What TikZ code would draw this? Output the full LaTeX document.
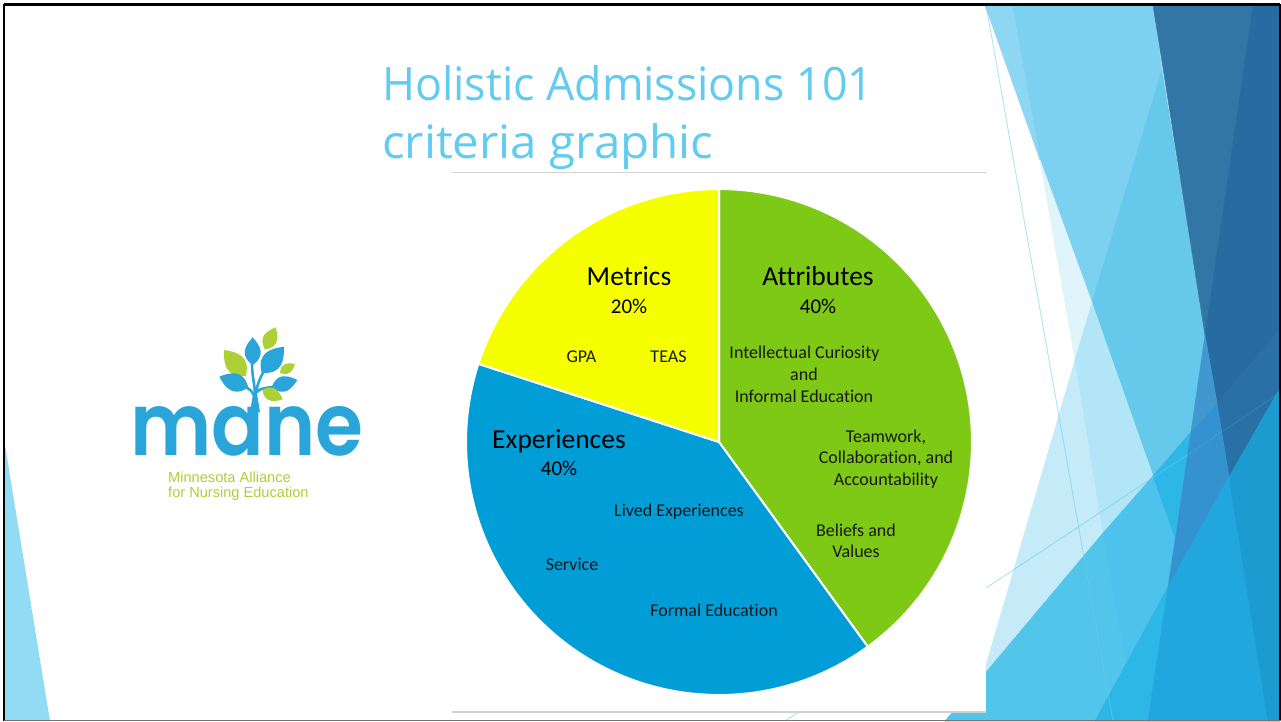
\documentclass[tikz,border=0pt]{standalone}
\usepackage{fontspec}
\usepackage{graphicx}
\setmainfont{Carlito}[Ligatures=CommonOff]
\newfontfamily\titlefont{Open Sans}
\newfontfamily\logofont{Poppins SemiBold}
\newfontfamily\subfont{Liberation Sans}
\usetikzlibrary{calc}
\definecolor{titleblue}{HTML}{62CBF0}
\definecolor{piegreen}{HTML}{7EC816}
\definecolor{pieblue}{HTML}{019DD7}
\definecolor{pieyellow}{HTML}{F6FF00}
\definecolor{logoblue}{HTML}{2AA5DA}
\definecolor{logogreen}{HTML}{ADD037}
\definecolor{thinblue}{HTML}{68CDF0}
\definecolor{leftfacet}{HTML}{91DBF5}
\definecolor{a1}{HTML}{7DD1F0}\definecolor{a2}{HTML}{8DD7F2}\definecolor{a3}{HTML}{66C9EC}
\definecolor{a4}{HTML}{E0F4FB}\definecolor{a5}{HTML}{C5EBF9}\definecolor{a6}{HTML}{B2E6F6}
\definecolor{a7}{HTML}{52C5EA}\definecolor{a8}{HTML}{4DC2EC}\definecolor{a9}{HTML}{2DB7E7}
\definecolor{b1}{HTML}{3276A5}\definecolor{b2}{HTML}{276CA1}\definecolor{b3}{HTML}{3592D0}
\definecolor{b4}{HTML}{21A6DE}\definecolor{b5}{HTML}{1B9BCF}\definecolor{b6}{HTML}{2870A6}\definecolor{b7}{HTML}{4098CF}
\tikzset{
 big/.style={font=\fontsize{27.5}{28}\selectfont,anchor=base,inner sep=0pt,text=black},
 pct/.style={font=\fontsize{21}{21}\selectfont,anchor=base,inner sep=0pt,text=black},
 small/.style={font=\fontsize{18}{18}\selectfont,anchor=base,inner sep=0pt,text=black!90},
 sub/.style={font=\subfont\fontsize{14.6}{15}\selectfont,anchor=base west,inner sep=0pt,text=logogreen},
 ttl/.style={font=\titlefont\fontsize{46}{46}\selectfont,anchor=base west,inner sep=0pt,text=titleblue},
 thin line/.style={line width=.9pt,color=thinblue,opacity=.55},
 faint line/.style={line width=.9pt,color=thinblue,opacity=.18},
 leafb/.style={fill=logoblue},
 leafg/.style={fill=logogreen},
 twig/.style={draw=logoblue,line width=2.6pt,line cap=round},
 facet/.style={fill=#1,draw=#1,line width=.5pt,line join=round}
}
\newcommand{\leaf}[5]{% style, base x,y, tip x,y
 \path[#1] (#2,#3) .. controls ($(#2,#3)!.35!(#4,#5)!.77!90:(#4,#5)$) and ($(#2,#3)!.72!(#4,#5)!.9!90:(#4,#5)$) .. (#4,#5)
   .. controls ($(#2,#3)!.72!(#4,#5)!.9!-90:(#4,#5)$) and ($(#2,#3)!.35!(#4,#5)!.77!-90:(#4,#5)$) .. (#2,#3) -- cycle;}
\begin{document}
\begin{tikzpicture}[x=1pt,y=-1pt]
\useasboundingbox (0,0) rectangle (1281,721);
\fill[white] (0,0) rectangle (1281,721);
% left facet
\fill[leftfacet] (5,445) -- (50,721) -- (5,721) -- cycle;
% right facets
\path[facet=a1] (1012,5) -- (1153,5) -- (1162,70) -- (1092,303) -- (1040,160) -- cycle;
\path[facet=a2] (985,5) -- (1012,5) -- (1040,160) -- cycle;
\path[facet=a3] (1162,70) -- (1205,335) -- (1191,432) -- (1153,476) -- (1092,303) -- cycle;
\path[facet=a4] (1040,160) -- (1092,303) -- (1075,360) -- cycle;
\path[facet=a5] (1075,360) -- (1103,533) -- (986,672) -- (986,665) -- cycle;
\path[facet=a6] (1075,360) -- (1092,303) -- (1153,476) -- (1103,533) -- cycle;
\path[facet=a7] (945,721) -- (1103,533) -- (1126,664) -- (1095,721) -- cycle;
\path[facet=a8] (1103,533) -- (1153,476) -- (1175,537) -- (1168,587) -- (1126,664) -- cycle;
\path[facet=a9] (1153,476) -- (1191,432) -- (1175,537) -- cycle;
\path[facet=a9] (1168,587) -- (1148,721) -- (1095,721) -- cycle;
\path[facet=b1] (1153,5) -- (1253,5) -- (1205,335) -- cycle;
\path[facet=b2] (1253,5) -- (1280,5) -- (1280,330) -- (1217,403) -- (1205,335) -- cycle;
\path[facet=b6] (1217,403) -- (1280,330) -- (1280,388) -- (1229,477) -- cycle;
\path[facet=b3] (1217,403) -- (1229,477) -- (1168,587) -- (1191,432) -- cycle;
\path[facet=b7] (1205,335) -- (1217,403) -- (1191,432) -- cycle;
\path[facet=b4] (1168,587) -- (1229,477) -- (1268,721) -- (1148,721) -- cycle;
\path[facet=b5] (1229,477) -- (1280,388) -- (1280,721) -- (1268,721) -- cycle;
% thin lines
\coordinate (ta) at (986,5); \coordinate (tb) at (1113,721);
\coordinate (tc) at (785,721); \coordinate (td) at (1187,455); \coordinate (te) at (1281,392);
\draw[thin line] (ta) -- (tb);
\draw[thin line] (tc) -- (td);
\draw[faint line] (td) -- (te);
% chart picture
\fill[white] (452,172) rectangle (986,712);
\draw[black!18,line width=1.1pt] (452,172.5) -- (986,172.5);
\draw[black!18,line width=1.3pt] (452,712) -- (986,712);
% pie
\draw[fill=piegreen,draw=white,line width=2pt] (719,442) -- plot[domain=90:-54,samples=100] ({719+253*cos(\x)},{442-253*sin(\x)}) -- cycle;
\draw[fill=pieblue,draw=white,line width=2pt] (719,442) -- plot[domain=-54:-198,samples=100] ({719+253*cos(\x)},{442-253*sin(\x)}) -- cycle;
\draw[fill=pieyellow,draw=white,line width=2pt] (719,442) -- plot[domain=162:90,samples=60] ({719+253*cos(\x)},{442-253*sin(\x)}) -- cycle;
% frame
\draw[black,line width=2.6pt] (4,4.5) -- (1280,4.5);
\draw[black,line width=2.4pt] (4,4) -- (4,721);
\draw[black,line width=1.6pt] (1280.2,4) -- (1280.2,721);
\draw[black!55,line width=1.4pt] (4,720.3) -- (1281,720.3);
% title
\node[ttl] (t1) at (382,100) {\resizebox{491pt}{\height}{Holistic Admissions 101}};
\node[ttl] (t2) at (382,158) {\resizebox{331pt}{\height}{criteria graphic}};
% chart labels
\node[big] (m) at (629,285) {Metrics};
\node[pct] (mp) at (629,313) {20\%};
\node[small] (gpa) at (581.5,362) {GPA};
\node[small] (teas) at (668.5,362) {TEAS};
\node[big] (at) at (818,285) {Attributes};
\node[pct] (ap) at (818,313) {40\%};
\node[small] (i1) at (804.5,358) {Intellectual Curiosity};
\node[small] (i2) at (804,380) {and};
\node[small] (i3) at (804,402) {Informal Education};
\node[small] (w1) at (886,442) {Teamwork,};
\node[small] (w2) at (886,463) {Collaboration, and};
\node[small] (w3) at (886,485) {Accountability};
\node[small] (b1n) at (856,536) {Beliefs and};
\node[small] (b2n) at (856,557) {Values};
\node[big] (e) at (559,448) {Experiences};
\node[pct] (ep) at (559,475) {40\%};
\node[small] (l) at (679,516) {Lived Experiences};
\node[small] (s) at (572,570) {Service};
\node[small] (f) at (714,616) {Formal Education};
% logo
\fill[logoblue] (250,412) -- (253,394) -- (257,394) -- (260,412) -- cycle;
\draw[twig] (255,410) -- (255,395) .. controls (255,385) and (252,378) .. (252,362);
\draw[twig] (255,400) .. controls (254,392) and (250,389) .. (245,387);
\draw[twig] (255,398) .. controls (257,385) and (259,380) .. (264,371);
\draw[twig] (257,392) .. controls (260,388) and (266,388) .. (273,387);
\leaf{leafg}{265}{349.5}{275.7}{327.3}
\leaf{leafb}{252.7}{365}{252.7}{337.3}
\leaf{leafg}{245.7}{376}{224}{350}
\leaf{leafb}{261.7}{372.7}{284}{346.7}
\leaf{leafg}{280}{372.7}{295}{364}
\leaf{leafb}{248.3}{387.3}{219.3}{376.7}
\leaf{leafb}{271.7}{387.3}{297.3}{380}
\leaf{leafg}{262.3}{390}{282.7}{399.3}
\node[anchor=base west,inner sep=0pt,text=logoblue] (mane) at (130,455.5) {\resizebox{233pt}{49pt}{\logofont mane}};
\node[sub] (s1) at (168,482) {Minnesota Alliance};
\node[sub] (s2) at (168,497) {for Nursing Education};
\end{tikzpicture}
\end{document}
